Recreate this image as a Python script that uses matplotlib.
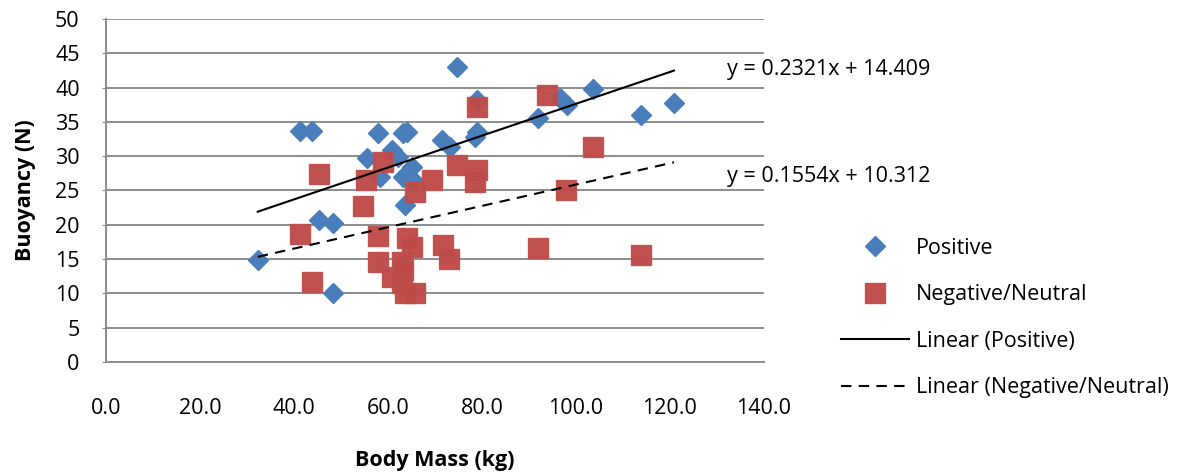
import numpy as np
import matplotlib
matplotlib.use('Agg')
import matplotlib.pyplot as plt

plt.rcParams['font.family'] = ['Open Sans', 'DejaVu Sans']

# Positive group
pos_mass = [32.3, 41.3, 43.8, 45.3, 48.3, 48.3, 55.5, 57.9, 58.3, 60.9,
            62.1, 63.2, 64.0, 63.2, 65.1, 65.3, 63.6, 71.5, 73.2, 74.7,
            78.9, 78.9, 78.5, 91.9, 96.6, 98.1, 103.6, 113.8, 120.9]
pos_buoy = [14.9, 33.7, 33.7, 20.7, 20.3, 10.1, 29.7, 33.4, 27.0, 30.9,
            29.9, 33.4, 33.5, 27.0, 28.4, 26.5, 22.9, 32.4, 31.3, 43.0,
            38.2, 33.5, 32.8, 35.6, 38.5, 37.5, 39.8, 36.0, 37.8]

# Negative/Neutral group
neg_mass = [41.3, 43.8, 45.3, 54.7, 55.3, 58.9, 57.9, 57.9, 60.9, 63.0,
            63.2, 63.0, 63.6, 65.7, 64.0, 65.1, 65.7, 69.4, 71.7, 73.0,
            74.7, 78.9, 78.9, 78.5, 91.9, 93.8, 97.9, 103.6, 113.8]
neg_buoy = [18.7, 11.7, 27.4, 22.7, 26.5, 29.2, 18.4, 14.6, 12.4, 14.6,
            13.4, 11.5, 10.1, 10.1, 18.1, 16.8, 24.8, 26.5, 17.1, 15.0,
            28.7, 37.2, 28.0, 26.2, 16.6, 38.9, 25.1, 31.3, 15.6]

# trendline coefficients as printed on the chart
pos_fit = (0.2321, 14.409)
neg_fit = (0.1554, 10.312)

fs = 15.5
fig = plt.figure(figsize=(11.98, 4.72), dpi=100)
ax = fig.add_axes([0.0885, 0.233, 0.549, 0.727])

ax.set_xlim(0, 140)
ax.set_ylim(0, 50)
ax.set_yticks(np.arange(0, 51, 5))
ax.set_xticks(np.arange(0, 141, 20))
ax.set_xticklabels(['%.1f' % v for v in np.arange(0, 141, 20)])
ax.grid(axis='y', color='#8c8c8c', lw=1.4)
ax.set_axisbelow(True)
for s in ['top', 'right']:
    ax.spines[s].set_visible(False)
for s in ['left', 'bottom']:
    ax.spines[s].set_color('#8c8c8c')
    ax.spines[s].set_linewidth(1.4)
ax.tick_params(axis='y', length=3, color='#8c8c8c', pad=16, labelsize=fs)
ax.tick_params(axis='x', length=0, pad=26, labelsize=fs)

ax.plot(pos_mass, pos_buoy, 'D', color='#4a7ebb', ms=10.2, mec='#4a7ebb',
        label='Positive', zorder=3)
ax.plot(neg_mass, neg_buoy, 's', color='#be4b48', ms=14, mec='#c0504d',
        alpha=0.97, label='Negative/Neutral', zorder=3)

xs = np.array([min(pos_mass + neg_mass), max(pos_mass + neg_mass)])
ax.plot(xs, pos_fit[0] * xs + pos_fit[1], color='black', lw=1.5,
        label='Linear (Positive)', zorder=4)
ax.plot(xs, neg_fit[0] * xs + neg_fit[1], color='black', lw=1.5,
        dashes=(5, 3.5), label='Linear (Negative/Neutral)', zorder=4)

ax.text(132.1, 42.6, 'y = 0.2321x + 14.409', fontsize=fs, va='center',
        clip_on=False)
ax.text(132.1, 27.0, 'y = 0.1554x + 10.312', fontsize=fs, va='center',
        clip_on=False)

ax.set_xlabel('Body Mass (kg)', fontsize=fs, fontweight='bold', labelpad=22)
ax.set_ylabel('Buoyancy (N)', fontsize=fs, fontweight='bold', labelpad=14)

fig.legend(loc='upper left', bbox_to_anchor=(0.695, 0.515), frameon=False,
           fontsize=fs, handlelength=3.15, handletextpad=0.32,
           labelspacing=1.19, borderaxespad=0)

fig.savefig('out.png', dpi=100)
